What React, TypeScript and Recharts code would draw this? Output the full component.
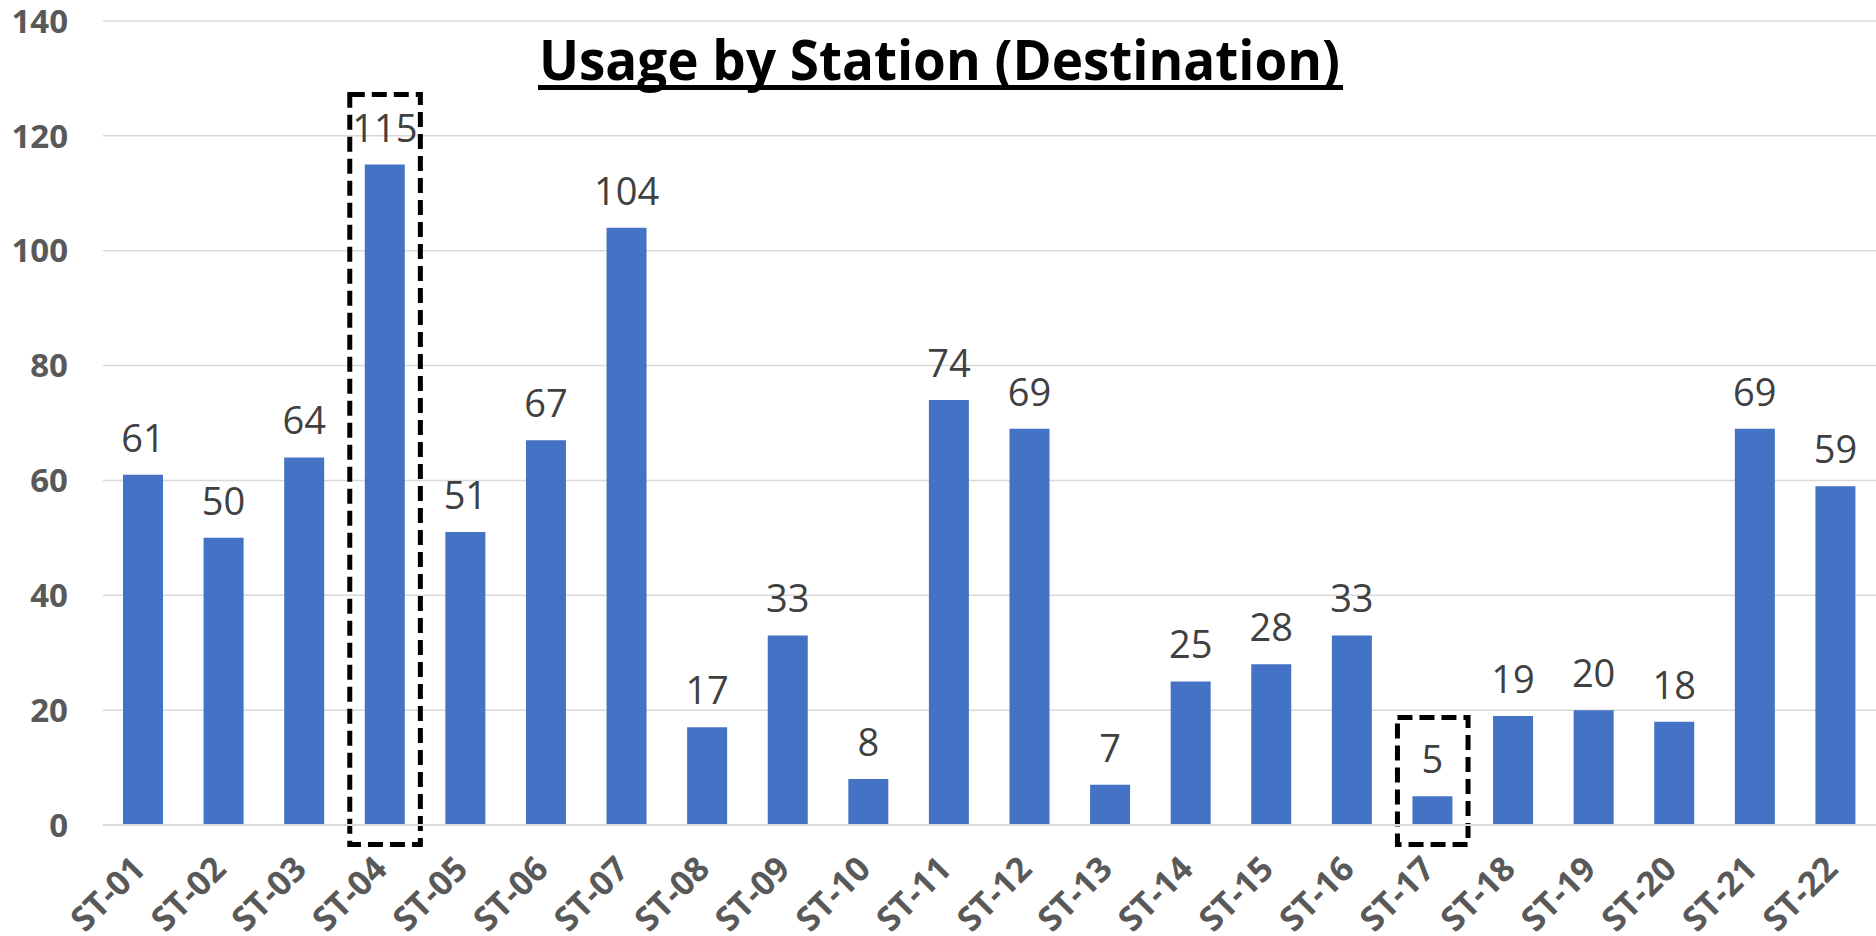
import React from "react";
import {
  BarChart,
  Bar,
  XAxis,
  YAxis,
  CartesianGrid,
  LabelList,
  ReferenceArea,
} from "recharts";

const stations = [
  "ST-01", "ST-02", "ST-03", "ST-04", "ST-05", "ST-06", "ST-07", "ST-08",
  "ST-09", "ST-10", "ST-11", "ST-12", "ST-13", "ST-14", "ST-15", "ST-16",
  "ST-17", "ST-18", "ST-19", "ST-20", "ST-21", "ST-22",
];
const usage = [61, 50, 64, 115, 51, 67, 104, 17, 33, 8, 74, 69, 7, 25, 28, 33, 5, 19, 20, 18, 69, 59];
const yTicks = [0, 20, 40, 60, 80, 100, 120, 140];

// highlighted stations (max / min), box extent in value units
const highlightStations = ["ST-04", "ST-17"];
const highlightTop = [127.2, 18.7];
const highlightBottom = [-3.4, -3.4];

const chartData = stations.map((name, i) => ({ name, value: usage[i] }));

const FONT = "'Open Sans', 'Noto Sans', sans-serif";

const StationTick = ({ x, y, payload }: any) => (
  <g transform={`translate(${x + 4},${y + 46})`}>
    <text
      textAnchor="end"
      transform="rotate(-45)"
      fontFamily={FONT}
      fontSize={34}
      fontWeight={700}
      fill="#595959"
    >
      {payload.value}
    </text>
  </g>
);

const DashedBox = (props: any) => {
  const inset = 5;
  return (
    <rect
      x={props.x + inset}
      y={props.y}
      width={props.width - inset * 2}
      height={props.height}
      fill="none"
      stroke="#000"
      strokeWidth={5}
      strokeDasharray="15 7"
    />
  );
};

const App = () => {
  return (
    <div style={{ position: "relative", width: 1876, height: 936, background: "#fff" }}>
      <style>{`body { margin: 0; }`}</style>
      <BarChart
        width={1876}
        height={936}
        data={chartData}
        margin={{ top: 21, right: 0, left: 0, bottom: 0 }}
      >
        <CartesianGrid vertical={false} stroke="#d9d9d9" strokeWidth={1.5} />
        <XAxis
          dataKey="name"
          height={111}
          interval={0}
          tickSize={0}
          tickMargin={0}
          axisLine={{ stroke: "#d9d9d9", strokeWidth: 2 }}
          tickLine={false}
          tick={<StationTick />}
        />
        <YAxis
          width={103}
          domain={[0, 140]}
          ticks={yTicks}
          interval={0}
          axisLine={false}
          tickLine={false}
          tickSize={0}
          tickMargin={35}
          tick={{ fill: "#595959", fontSize: 33, fontWeight: 700, fontFamily: FONT }}
        />
        <Bar dataKey="value" fill="#4472C4" barSize={40} isAnimationActive={false}>
          <LabelList
            dataKey="value"
            position="top"
            offset={23}
            fill="#404040"
            fontSize={38}
            fontFamily={FONT}
          />
        </Bar>
        {highlightStations.map((s, i) => (
          <ReferenceArea
            key={s}
            x1={s}
            x2={s}
            y1={highlightBottom[i]}
            y2={highlightTop[i]}
            ifOverflow="visible"
            shape={<DashedBox />}
          />
        ))}
      </BarChart>
      <svg
        width={1876}
        height={110}
        style={{ position: "absolute", left: 0, top: 0, pointerEvents: "none" }}
      >
        <text
          x={539}
          y={80}
          textLength={801}
          lengthAdjust="spacingAndGlyphs"
          fontFamily={FONT}
          fontSize={56}
          fontWeight={700}
          fill="#000"
        >
          Usage by Station (Destination)
        </text>
        <line x1={538} x2={1343} y1={87.5} y2={87.5} stroke="#000" strokeWidth={5} />
      </svg>
    </div>
  );
};

export default App;
